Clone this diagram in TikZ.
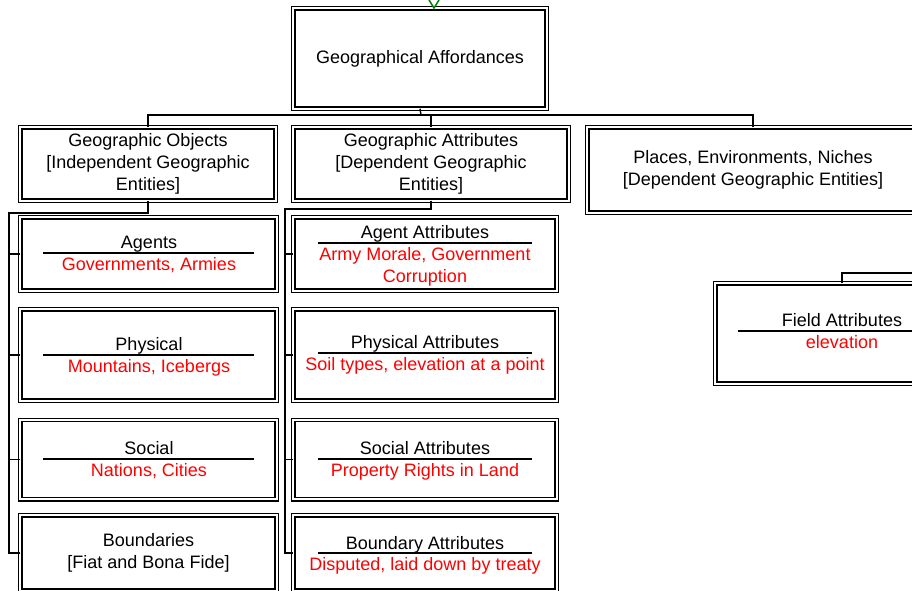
\documentclass[tikz,border=0pt]{standalone}
\usepackage{fontspec}
\setmainfont{Liberation Sans}
\begin{document}
\begin{tikzpicture}[x=1pt,y=-1pt,
  box/.style={draw=black, double, double distance=1.8pt, line width=1.4pt, inner sep=0pt, outer sep=0pt, align=center, font=\fontsize{18}{22}\selectfont},
  ttl/.style={inner sep=0pt, anchor=base, font=\fontsize{18}{22}\selectfont, text=black},
  sub/.style={inner sep=0pt, anchor=base, font=\fontsize{18}{22}\selectfont, text=red, align=center},
  rulel/.style={line width=1.4pt},
  conn/.style={line width=1.4pt}]
\useasboundingbox (0,0) rectangle (912,590);
% top
\node[box, minimum width=253.4, minimum height=100.4] (top) at (420,58.5) {Geographical Affordances};
% level 1
\node[box, minimum width=255.4, minimum height=73.4] (go) at (148,164) {Geographic Objects\\{}{[}Independent Geographic\\Entities{]}};
\node[box, minimum width=275.4, minimum height=73.4] (ga) at (431,164) {Geographic Attributes\\{}{[}Dependent Geographic\\Entities{]}};
\node[box, minimum width=331.4, minimum height=85.4] (pl) at (753,170) {Places, Environments, Niches\\{}{[}Dependent Geographic Entities{]}};
% left column
\node[box, minimum width=256.4, minimum height=73.4] (ag) at (148.5,254) {};
\node[box, minimum width=256.4, minimum height=91.4] (ph) at (148.5,355) {};
\node[box, minimum width=256.4, minimum height=79.4] (so) at (148.5,459.5) {};
\node[box, minimum width=256.4, minimum height=75.4] (bo) at (148.5,553) {Boundaries\\{}{[}Fiat and Bona Fide{]}};
% middle column
\node[box, minimum width=263.4, minimum height=73.4] (aa) at (425,254) {};
\node[box, minimum width=263.4, minimum height=91.4] (pa) at (425,355) {};
\node[box, minimum width=263.4, minimum height=79.4] (sa) at (425,459.5) {};
\node[box, minimum width=263.4, minimum height=75.4] (ba) at (425,553) {};
% field
\node[box, minimum width=253.4, minimum height=100.4] (fa) at (842,333.5) {};

% texts left
\node[ttl] (agT) at (149,248) {Agents};
\draw[rulel] (43,253) -- (254,253);
\node[sub] (agS) at (149,270) {Governments, Armies};
\node[ttl] (phT) at (149,350) {Physical};
\draw[rulel] (43,355) -- (254,355);
\node[sub] (phS) at (149,372) {Mountains, Icebergs};
\node[ttl] (soT) at (149,454) {Social};
\draw[rulel] (43,459) -- (254,459);
\node[sub] (soS) at (149,476) {Nations, Cities};
% texts middle
\node[ttl] (aaT) at (425,238) {Agent Attributes};
\draw[rulel] (318,243) -- (532,243);
\node[sub] (aaS1) at (425,260) {Army Morale, Government};
\node[sub] (aaS2) at (425,282) {Corruption};
\node[ttl] (paT) at (425,348) {Physical Attributes};
\draw[rulel] (318,353) -- (532,353);
\node[sub] (paS) at (425,370) {Soil types, elevation at a point};
\node[ttl] (saT) at (425,454) {Social Attributes};
\draw[rulel] (318,459) -- (532,459);
\node[sub] (saS) at (425,476) {Property Rights in Land};
\node[ttl] (baT) at (425,549) {Boundary Attributes};
\draw[rulel] (318,553) -- (532,553);
\node[sub] (baS) at (425,570) {Disputed, laid down by treaty};
% field texts
\node[ttl] (faT) at (842,326) {Field Attributes};
\draw[rulel] (738,331) -- (946,331);
\node[sub] (faS) at (842,348) {elevation};

% connectors top
\coordinate (tj) at (421,115);
\draw[conn] (top.south) -- (tj);
\draw[conn] (go.north) |- (tj);
\draw[conn] (pl.north) |- (tj);
\draw[conn] (ga.north) -- (ga.north |- tj);
% left spine
\coordinate (ls) at (9,213);
\draw[conn] (go.south) |- (ls) |- (bo.west);
\draw[conn] (ag.west) -- (ag.west -| ls);
\draw[conn] (ph.west) -- (ph.west -| ls);
\draw[conn] (so.west) -- (so.west -| ls);
% middle spine
\coordinate (ms) at (285,209);
\draw[conn] (ga.south) |- (ms) |- (ba.west);
\draw[conn] (aa.west) -- (aa.west -| ms);
\draw[conn] (pa.west) -- (pa.west -| ms);
\draw[conn] (sa.west) -- (sa.west -| ms);
% field connector
\coordinate (fe) at (930,273);
\draw[conn] (fa.north) |- (fe);
% green mark
\coordinate (g1) at (429,0);
\coordinate (g2) at (434,8);
\coordinate (g3) at (439,0);
\draw[green!50!black, line width=1.5pt] (g1) -- (g2) -- (g3);
\end{tikzpicture}
\end{document}
